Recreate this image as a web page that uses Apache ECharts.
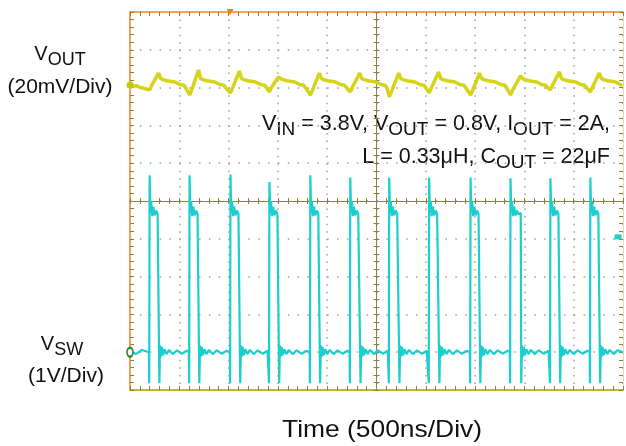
<!DOCTYPE html>
<html>
<head>
<meta charset="utf-8">
<script src="https://cdn.jsdelivr.net/npm/echarts@6/dist/echarts.min.js"></script>
<style>
  html, body { margin: 0; padding: 0; background: #fff; }
  #chart { width: 626px; height: 446px; }
</style>
</head>
<body>
<div id="chart"></div>
<script>
// switching edges (ns from left edge, 500ns/div)
var riseNs = [195, 600, 1015, 1410, 1825, 2230, 2625, 3030, 3450, 3855, 4260, 4665];
var fallNs = [295, 700, 1115, 1510, 1925, 2335, 2730, 3135, 3550, 3965, 4360, 4765];
// VSW overshoot at each rising edge (V)
var swSpikeV = [4.68, 4.68, 4.70, 4.50, 4.68, 4.62, 4.62, 4.62, 4.62, 4.60, 4.60, 4.62];
// VSW ringing on the high plateau (ns after rise, V)
var swHighShape = [[12, 3.7], [20, 4.0], [30, 3.6], [42, 3.85], [55, 3.62], [70, 3.75], [85, 3.65]];
// VSW ringing after the falling edge (ns after fall, V)
var swLowShape = [[10, 0.18], [18, -0.12], [28, 0.14], [40, -0.08], [55, 0.08], [75, -0.05], [100, 0.06],
    [140, -0.05], [180, 0.05], [230, -0.04], [280, 0.04]];
// VOUT ripple per cycle (mV)
var ripPeakMv = [6.3, 7.9, 7.4, 4.2, 6.3, 6.3, 6.3, 6.9, 6.3, 4.8, 6.9, 6.3];
var ripTroughMv = [-2.6, -5.3, -4.2, -3.7, -5.3, -3.7, -6.3, -4.2, -5.3, -5.3, -2.6, -3.7];
// VOUT shape between peak and next trough (ns after fall, mV)
var ripDecayShape = [[15, 3.5], [40, 2.8], [60, 3.2], [80, 2.2], [110, 2.0], [130, 1.4], [160, 1.6],
    [180, 0.8], [210, 0.2], [230, -0.4], [250, -0.1], [270, -1.5]];

// screen offsets (divisions from centre)
var SW_ZERO = -4, RIP_ZERO = 3.07;

var swData = [[0, 0.05], [60, -0.05], [120, 0.06]];
var ripData = [[0, 0], [40, -0.6], [70, -0.4], [100, -1.4], [130, -1.6]];
riseNs.forEach(function (r, i) {
    var f = fallNs[i];
    var next = i + 1 < riseNs.length ? riseNs[i + 1] : 5000;
    swData.push([r - 3, 0], [r, -0.82], [r + 4, swSpikeV[i]]);
    swHighShape.forEach(function (p) { swData.push([r + p[0], p[1]]); });
    swData.push([f - 2, 3.68], [f + 3, -0.82]);
    swLowShape.forEach(function (p) { if (f + p[0] < next - 5) swData.push([f + p[0], p[1]]); });

    ripData.push([r + 5, ripTroughMv[i]], [r + 25, ripTroughMv[i] + 2.5], [r + 45, ripTroughMv[i] + 2],
        [f - 5, ripPeakMv[i]]);
    ripDecayShape.forEach(function (p) { if (f + p[0] < next) ripData.push([f + p[0], p[1]]); });
});
swData.push([5000, 0]);

var swDiv = swData.map(function (p) { return [p[0], p[1] + SW_ZERO]; });
var ripDiv = ripData.map(function (p) { return [p[0], p[1] / 20 + RIP_ZERO]; });

var font = "'Liberation Sans', Arial, sans-serif";
var dotColor = '#a8a08a';
var tickColor = '#8a8240';

var myChart = echarts.init(document.getElementById('chart'));

function centreAxis(gridIndex, position) {
    return {
        gridIndex: gridIndex, type: 'value', min: -5, max: 5, interval: 0.2, position: position,
        axisLine: { onZero: true, lineStyle: { color: tickColor, width: 1 } },
        axisTick: { inside: true, length: 3, lineStyle: { color: tickColor } },
        axisLabel: { show: false }, splitLine: { show: false }
    };
}

function subText(parts, size, subSize) {
    return {
        m: { fontFamily: font, fontSize: size, fill: '#111' },
        s: { fontFamily: font, fontSize: subSize, fill: '#111', padding: [12, 0, 0, 0] }
    };
}

var option = {
    animation: false,
    backgroundColor: '#fff',
    grid: [
        { left: 130, top: 12, width: 493, height: 378 },
        { left: 130, top: 12, width: 493, height: 378 }
    ],
    xAxis: [{
        gridIndex: 0, type: 'value', min: 0, max: 5000, interval: 500, position: 'bottom',
        axisLine: { onZero: false, lineStyle: { color: '#c4b434', width: 2 } },
        axisTick: { inside: true, length: 4, lineStyle: { color: tickColor } },
        minorTick: { show: true, splitNumber: 5, length: 4, lineStyle: { color: tickColor } },
        axisLabel: { show: false },
        splitLine: { show: true, lineStyle: { color: dotColor, width: 1.5, type: [1.5, 6.06] } }
    }, {
        gridIndex: 0, type: 'value', min: 0, max: 5000, interval: 100, position: 'top',
        axisLine: { onZero: false, lineStyle: { color: '#f4a458', width: 2 } },
        axisTick: { inside: true, length: 4, lineStyle: { color: tickColor } },
        axisLabel: { show: false }, splitLine: { show: false }
    },
        centreAxis(1, 'bottom'),
        centreAxis(1, 'top')
    ],
    yAxis: [{
        gridIndex: 0, type: 'value', min: -5, max: 5, interval: 1, position: 'left',
        axisLine: { onZero: false, lineStyle: { color: '#f4a458', width: 2 } },
        axisTick: { inside: true, length: 4, lineStyle: { color: tickColor } },
        minorTick: { show: true, splitNumber: 5, length: 4, lineStyle: { color: tickColor } },
        axisLabel: { show: false },
        splitLine: { show: true, lineStyle: { color: dotColor, width: 1.5, type: [1.5, 8.36] } }
    }, {
        gridIndex: 0, type: 'value', min: -5, max: 5, interval: 0.2, position: 'right',
        axisLine: { show: true, onZero: false, lineStyle: { color: '#e4dcb4', width: 1 } },
        axisTick: { inside: true, length: 4, lineStyle: { color: tickColor } },
        axisLabel: { show: false }, splitLine: { show: false }
    },
        centreAxis(1, 'left'),
        centreAxis(1, 'right')
    ],
    series: [{
        name: 'VOUT', type: 'line', xAxisIndex: 0, yAxisIndex: 0,
        data: ripDiv, showSymbol: false, silent: true,
        lineStyle: { color: '#d6d418', width: 3.5 },
        markPoint: {
            silent: true, label: { show: false },
            data: [
                { coord: [0, RIP_ZERO], symbol: 'circle', symbolSize: 7, itemStyle: { color: '#c8c800' } },
                { coord: [1015, 5], symbol: 'triangle', symbolRotate: 180, symbolSize: [7, 6], itemStyle: { color: '#f08020' } }
            ]
        }
    }, {
        name: 'VSW', type: 'line', xAxisIndex: 0, yAxisIndex: 0,
        data: swDiv, showSymbol: false, silent: true,
        lineStyle: { color: '#1ccfcf', width: 2.2 },
        markPoint: {
            silent: true, label: { show: false },
            data: [
                { coord: [0, SW_ZERO], symbol: 'emptyCircle', symbolSize: [6, 9], itemStyle: { color: '#2a8a30', borderWidth: 1.5 } },
                { coord: [4950, -0.95], symbol: 'rect', symbolSize: [7, 5], itemStyle: { color: '#1ccfcf' } }
            ]
        }
    }],
    graphic: [
        { type: 'text', x: 60, y: 54, style: { text: '{m|V}{s|OUT}', align: 'center', verticalAlign: 'middle',
            rich: subText(null, 20, 18) } },
        { type: 'text', x: 60, y: 87, style: { text: '(20mV/Div)', align: 'center', verticalAlign: 'middle',
            fontFamily: font, fontSize: 21, fill: '#111' } },
        { type: 'text', x: 62, y: 344, style: { text: '{m|V}{s|SW}', align: 'center', verticalAlign: 'middle',
            rich: subText(null, 20, 18) } },
        { type: 'text', x: 66, y: 376, style: { text: '(1V/Div)', align: 'center', verticalAlign: 'middle',
            fontFamily: font, fontSize: 21, fill: '#111' } },
        { type: 'text', x: 382, y: 430, scaleX: 1.1, style: { text: 'Time (500ns/Div)', align: 'center', verticalAlign: 'middle',
            fontFamily: font, fontSize: 24, fill: '#111' } },
        { type: 'text', x: 610, y: 124, style: {
            text: '{m|V}{s|IN}{m| = 3.8V, V}{s|OUT}{m| = 0.8V, I}{s|OUT}{m| = 2A,}', align: 'right', verticalAlign: 'middle',
            rich: subText(null, 21.5, 19) } },
        { type: 'text', x: 610, y: 157, style: {
            text: '{m|L = 0.33μH, C}{s|OUT}{m| = 22μF}', align: 'right', verticalAlign: 'middle',
            rich: subText(null, 21.5, 19) } }
    ]
};
myChart.setOption(option);
</script>
</body>
</html>
